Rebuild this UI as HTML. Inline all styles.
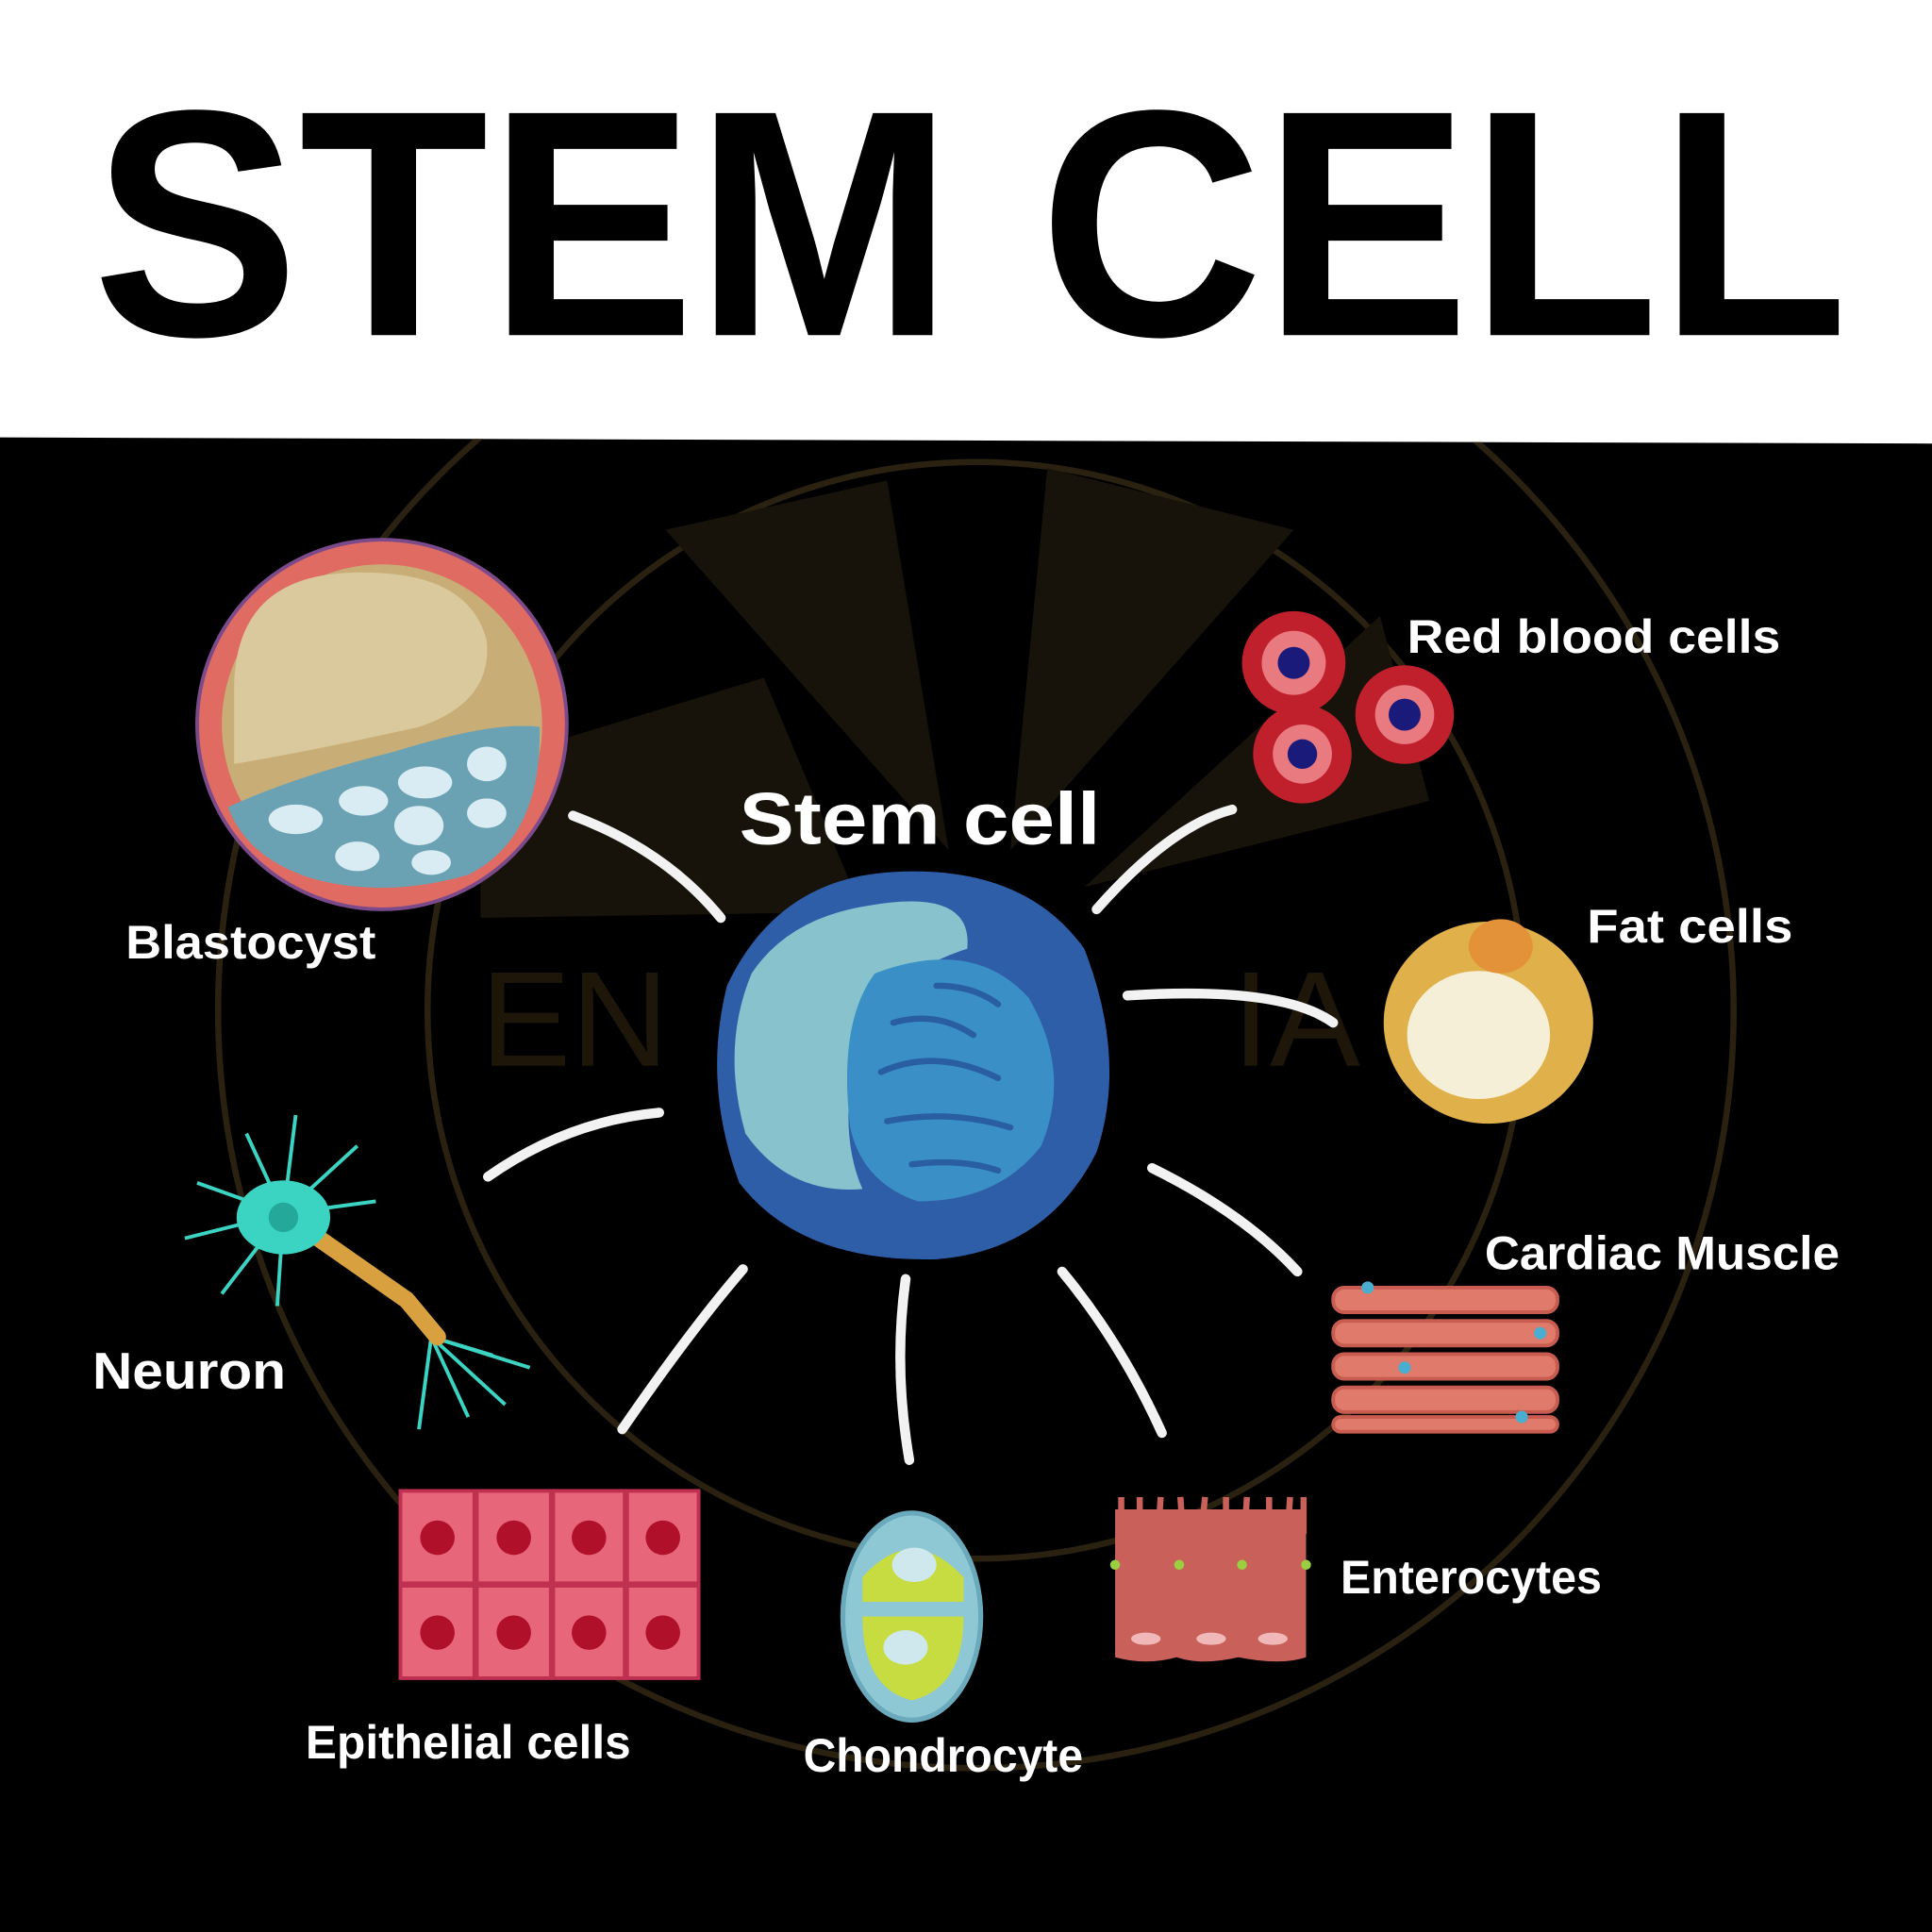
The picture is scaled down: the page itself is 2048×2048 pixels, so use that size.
<!DOCTYPE html>
<html><head><meta charset="utf-8"><style>
html,body{margin:0;padding:0;background:#fff;}
svg{display:block;}
text{font-family:"Liberation Sans",sans-serif;}
</style></head><body>
<svg width="2048" height="2048" viewBox="0 0 1568 1568" xmlns="http://www.w3.org/2000/svg">
<defs><clipPath id="blk"><path d="M0 355 L1568 360 L1568 1568 L0 1568 Z"/></clipPath></defs>
<rect x="0" y="0" width="1568" height="1568" fill="#fff"/>
<path d="M0 355 L1568 360 L1568 1568 L0 1568 Z" fill="#000"/>
<text x="75" y="272" font-size="262" font-weight="bold" textLength="1425" lengthAdjust="spacingAndGlyphs" fill="#000">STEM CELL</text>
<!-- watermark -->
<g clip-path="url(#blk)">
<g fill="none" stroke="#2a2110" stroke-width="5">
<circle cx="792" cy="820" r="615"/>
<circle cx="792" cy="820" r="445"/>
</g>
<g fill="#17120a">
<path d="M540 430 L720 390 L770 690 Z"/><path d="M850 380 L1050 430 L820 690 Z"/><path d="M390 620 L620 550 L700 740 L390 745 Z"/><path d="M1120 500 L1160 650 L880 720 Z"/>
</g>
<text x="390" y="865" font-family="Liberation Serif" font-size="110" fill="#1e1709">EN</text>
<text x="1000" y="865" font-family="Liberation Serif" font-size="110" fill="#1e1709">IA</text>
</g>
<!-- connectors -->
<g fill="none" stroke="#f2f2f2" stroke-width="8" stroke-linecap="round">
<path d="M465 662 Q540 690 585 745"/>
<path d="M1000 657 Q950 670 890 738"/>
<path d="M915 808 Q1040 800 1082 830"/>
<path d="M535 903 Q460 910 396 955"/>
<path d="M935 948 Q1010 985 1053 1032"/>
<path d="M603 1030 Q560 1080 505 1160"/>
<path d="M735 1038 Q725 1110 738 1185"/>
<path d="M862 1032 Q910 1090 943 1163"/>
</g>
<!-- stem cell -->
<path d="M720 708 Q830 700 880 770 Q915 860 890 935 Q850 1015 760 1022 Q650 1025 600 960 Q570 880 590 800 Q630 715 720 708 Z" fill="#2f5ea9"/>
<path d="M705 735 Q790 720 785 770 Q720 790 695 850 Q680 920 700 965 Q640 970 605 920 Q585 850 610 790 Q640 745 705 735 Z" fill="#88c2cd"/>
<path d="M710 790 Q790 760 835 810 Q870 870 845 930 Q810 975 745 975 Q700 960 690 915 Q680 830 710 790 Z" fill="#3a90c6"/>
<g fill="none" stroke="#2a5ea3" stroke-width="5" stroke-linecap="round">
<path d="M725 830 Q760 820 790 840"/><path d="M715 870 Q760 850 810 875"/><path d="M720 910 Q770 900 820 915"/><path d="M740 945 Q780 940 810 950"/><path d="M760 800 Q790 800 810 815"/>
</g>
<text x="600" y="685" font-size="60" font-weight="bold" fill="#fff" textLength="293" lengthAdjust="spacingAndGlyphs">Stem cell</text>
<!-- blastocyst -->
<circle cx="310" cy="588" r="150" fill="#e06b62" stroke="#7a4a8a" stroke-width="3"/>
<circle cx="310" cy="588" r="130" fill="#c8ae76"/>
<path d="M190 560 Q190 470 280 465 Q380 460 395 520 Q400 570 340 590 Q250 610 190 620 Z" fill="#dbc99e"/>
<path d="M185 655 Q240 630 320 610 Q400 585 438 590 Q440 680 380 710 Q310 730 250 712 Q200 695 185 655 Z" fill="#6aa2b4"/>
<g fill="#d9ecf3"><ellipse cx="240" cy="665" rx="22" ry="12"/><ellipse cx="295" cy="650" rx="20" ry="12"/><ellipse cx="345" cy="635" rx="22" ry="13"/><ellipse cx="395" cy="620" rx="16" ry="14"/><ellipse cx="340" cy="670" rx="20" ry="16"/><ellipse cx="290" cy="695" rx="18" ry="12"/><ellipse cx="395" cy="660" rx="16" ry="12"/><ellipse cx="350" cy="700" rx="16" ry="10"/></g>
<text x="102" y="778" font-size="38" font-weight="bold" fill="#fff" textLength="203" lengthAdjust="spacingAndGlyphs">Blastocyst</text>
<!-- red blood cells -->
<g><circle cx="1050" cy="538" r="42" fill="#c0202c"/><circle cx="1050" cy="538" r="26" fill="#e87a80"/><circle cx="1050" cy="538" r="13" fill="#1a1a7a"/>
<circle cx="1140" cy="580" r="40" fill="#c0202c"/><circle cx="1140" cy="580" r="24" fill="#e87a80"/><circle cx="1140" cy="580" r="13" fill="#1a1a7a"/>
<circle cx="1057" cy="612" r="40" fill="#c0202c"/><circle cx="1057" cy="612" r="24" fill="#e87a80"/><circle cx="1057" cy="612" r="12" fill="#1a1a7a"/></g>
<text x="1142" y="530" font-size="38" font-weight="bold" fill="#fff" textLength="303" lengthAdjust="spacingAndGlyphs">Red blood cells</text>
<!-- fat cell -->
<ellipse cx="1208" cy="830" rx="85" ry="82" fill="#e0b04a"/>
<ellipse cx="1200" cy="840" rx="58" ry="52" fill="#f6efd8"/>
<ellipse cx="1218" cy="768" rx="26" ry="22" fill="#e4923a"/>
<text x="1288" y="765" font-size="38" font-weight="bold" fill="#fff" textLength="167" lengthAdjust="spacingAndGlyphs">Fat cells</text>
<!-- cardiac -->
<g fill="#e07a6a" stroke="#c95c50" stroke-width="3">
<rect x="1082" y="1045" width="182" height="20" rx="9"/><rect x="1082" y="1072" width="182" height="20" rx="9"/><rect x="1082" y="1099" width="182" height="20" rx="9"/><rect x="1082" y="1126" width="182" height="20" rx="9"/><rect x="1082" y="1150" width="182" height="12" rx="6"/></g>
<g fill="#4aaed0"><circle cx="1110" cy="1045" r="5"/><circle cx="1250" cy="1082" r="5"/><circle cx="1140" cy="1110" r="5"/><circle cx="1235" cy="1150" r="5"/></g>
<text x="1205" y="1030" font-size="38" font-weight="bold" fill="#fff" textLength="288" lengthAdjust="spacingAndGlyphs">Cardiac Muscle</text>
<!-- neuron -->
<g stroke="#3bd3c2" stroke-width="3" fill="none">
<path d="M230 985 L200 920 M230 985 L240 905 M230 985 L290 930 M230 985 L305 975 M230 985 L160 960 M230 985 L150 1005 M230 985 L180 1050 M230 985 L225 1060"/>
<path d="M350 1085 L340 1160 M350 1085 L380 1150 M350 1085 L410 1140 M350 1085 L430 1110 M350 1085 L400 1100"/>
</g>
<path d="M230 985 L330 1055 L355 1085" stroke="#d9a040" stroke-width="14" fill="none" stroke-linecap="round"/>
<ellipse cx="230" cy="988" rx="38" ry="30" fill="#3bd3c2"/><circle cx="230" cy="988" r="12" fill="#24a89a"/>
<text x="75" y="1127" font-size="42" font-weight="bold" fill="#fff" textLength="157" lengthAdjust="spacingAndGlyphs">Neuron</text>
<!-- epithelial -->
<g fill="#e8667a" stroke="#c03050" stroke-width="3">
<rect x="325" y="1210" width="60" height="75"/><rect x="387" y="1210" width="60" height="75"/><rect x="449" y="1210" width="58" height="75"/><rect x="509" y="1210" width="58" height="75"/>
<rect x="325" y="1287" width="60" height="75"/><rect x="387" y="1287" width="60" height="75"/><rect x="449" y="1287" width="58" height="75"/><rect x="509" y="1287" width="58" height="75"/></g>
<g fill="#b0102a"><circle cx="355" cy="1248" r="14"/><circle cx="417" cy="1248" r="14"/><circle cx="478" cy="1248" r="14"/><circle cx="538" cy="1248" r="14"/><circle cx="355" cy="1325" r="14"/><circle cx="417" cy="1325" r="14"/><circle cx="478" cy="1325" r="14"/><circle cx="538" cy="1325" r="14"/></g>
<text x="248" y="1427" font-size="38" font-weight="bold" fill="#fff" textLength="264" lengthAdjust="spacingAndGlyphs">Epithelial cells</text>
<!-- chondrocyte -->
<ellipse cx="740" cy="1312" rx="56" ry="84" fill="#8ec8d4" stroke="#6aaabc" stroke-width="4"/>
<path d="M700 1280 Q740 1235 782 1280 L782 1300 L700 1300 Z" fill="#c6dc40"/>
<path d="M700 1312 L782 1312 Q782 1370 740 1380 Q700 1370 700 1312 Z" fill="#c6dc40"/>
<ellipse cx="742" cy="1270" rx="18" ry="14" fill="#cfe8ee"/><ellipse cx="735" cy="1337" rx="18" ry="14" fill="#cfe8ee"/>
<text x="652" y="1438" font-size="38" font-weight="bold" fill="#fff" textLength="227" lengthAdjust="spacingAndGlyphs">Chondrocyte</text>
<!-- enterocytes -->
<path d="M905 1225 L1060 1225 L1060 1345 Q1040 1352 1005 1345 Q975 1352 955 1345 Q930 1352 905 1345 Z" fill="#c9605a"/>
<g fill="none" stroke="#c9605a" stroke-width="5"><path d="M910 1245 L910 1215 M925 1245 L925 1215 M940 1245 L942 1215 M960 1245 L958 1215 M975 1245 L978 1215 M995 1245 L995 1215 M1010 1245 L1012 1215 M1030 1245 L1030 1215 M1045 1245 L1047 1215 M1058 1245 L1058 1215"/></g>
<g fill="#f0b8b8"><ellipse cx="930" cy="1330" rx="12" ry="5"/><ellipse cx="983" cy="1330" rx="12" ry="5"/><ellipse cx="1033" cy="1330" rx="12" ry="5"/></g>
<g fill="#9ad040"><circle cx="905" cy="1270" r="4"/><circle cx="957" cy="1270" r="4"/><circle cx="1008" cy="1270" r="4"/><circle cx="1060" cy="1270" r="4"/></g>
<text x="1088" y="1293" font-size="38" font-weight="bold" fill="#fff" textLength="212" lengthAdjust="spacingAndGlyphs">Enterocytes</text>
</svg>
</body></html>
